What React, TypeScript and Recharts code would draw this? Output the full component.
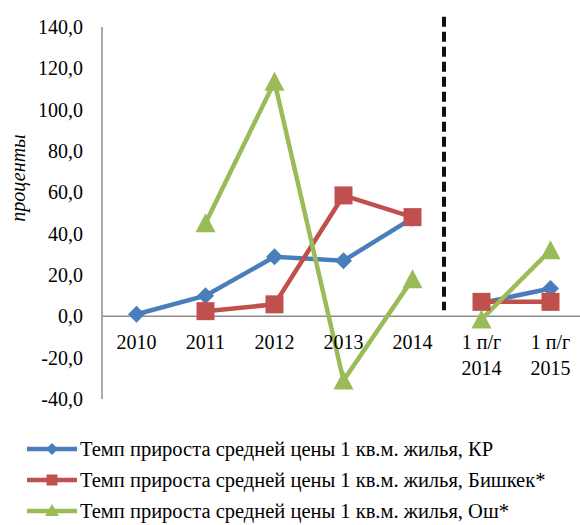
import React from "react";
import { LineChart, Line, XAxis, YAxis, ReferenceLine } from "recharts";

const categories = ["2010", "2011", "2012", "2013", "2014", "1 п/г 2014", "1 п/г 2015"];
// index where the half-year figures start (lines are broken there)
const halfYearStart = 5;

const krValues = [1.0, 10.0, 28.8, 26.9, 47.5, 6.5, 13.5];
const bishkekValues = [null, 2.5, 5.8, 58.5, 48.0, 7.0, 7.0];
const oshValues = [null, 45.0, 113.5, -31.0, 18.0, -1.5, 32.0];

const yTicks = [-40, -20, 0, 20, 40, 60, 80, 100, 120, 140];

const seriesNames = [
  "Темп прироста средней цены 1 кв.м. жилья, КР",
  "Темп прироста средней цены 1 кв.м. жилья, Бишкек*",
  "Темп прироста средней цены 1 кв.м. жилья, Ош*",
];

const BLUE = "#4a7ebb";
const RED = "#c0504d";
const GREEN = "#9bbb59";
const FONT = "'Liberation Serif', 'Times New Roman', serif";

const data = categories.map((name, i) => {
  const half = i >= halfYearStart;
  return {
    name,
    kr: half ? null : krValues[i],
    kr2: half ? krValues[i] : null,
    bishkek: half ? null : bishkekValues[i],
    bishkek2: half ? bishkekValues[i] : null,
    osh: half ? null : oshValues[i],
    osh2: half ? oshValues[i] : null,
  };
});

const fmt = (v: number) => v.toFixed(1).replace(".", ",");

function Marker({ kind, cx, cy, color }: { kind: string; cx: number; cy: number; color: string }) {
  if (kind === "diamond") {
    const r = 8.5;
    return <polygon points={`${cx},${cy - r} ${cx + r},${cy} ${cx},${cy + r} ${cx - r},${cy}`} fill={color} />;
  }
  if (kind === "square") {
    const s = 9;
    return <rect x={cx - s} y={cy - s} width={s * 2} height={s * 2} fill={color} />;
  }
  return <polygon points={`${cx},${cy - 10} ${cx + 10},${cy + 9} ${cx - 10},${cy + 9}`} fill={color} />;
}

const makeDot = (kind: string, color: string) => (props: any) => {
  const { cx, cy, index, value } = props;
  if (cy == null || value == null || Number.isNaN(cy)) return <g key={index} />;
  return <Marker key={index} kind={kind} cx={cx} cy={cy} color={color} />;
};

function CategoryTick({ x, y, payload }: any) {
  const label: string = payload.value;
  const cut = label.lastIndexOf(" ");
  const lines = cut > 0 ? [label.slice(0, cut), label.slice(cut + 1)] : [label];
  return (
    <text x={x} y={y - 50} textAnchor="middle" fill="#000" fontFamily={FONT} fontSize={20}>
      {lines.map((l, i) => (
        <tspan key={i} x={x} dy={i === 0 ? 0 : 26}>
          {l}
        </tspan>
      ))}
    </text>
  );
}

const legendItems = [
  { name: seriesNames[0], color: BLUE, kind: "diamond" },
  { name: seriesNames[1], color: RED, kind: "square" },
  { name: seriesNames[2], color: GREEN, kind: "triangle" },
];

export default function App() {
  const lineProps = { type: "linear" as const, strokeWidth: 4.5, isAnimationActive: false, activeDot: false, connectNulls: false };
  return (
    <div style={{ position: "fixed", left: 0, top: 0, width: 580, height: 525, overflow: "hidden", background: "#fff" }}>
      <LineChart width={600} height={525} data={data} margin={{ top: 27, right: 15, bottom: 0, left: 0 }}>
        <XAxis
          dataKey="name"
          scale="band"
          interval={0}
          axisLine={false}
          tickLine={false}
          tickSize={0}
          tickMargin={0}
          height={126}
          tick={<CategoryTick />}
        />
        <YAxis
          domain={[-40, 140]}
          ticks={yTicks}
          width={102}
          tickFormatter={fmt}
          axisLine={{ stroke: "#8c8c8c", strokeWidth: 1.5 }}
          tickLine={false}
          tickSize={0}
          tickMargin={19}
          tick={{ fill: "#000", fontFamily: FONT, fontSize: 20 }}
          label={{
            content: () => (
              <text
                x={18}
                y={178}
                transform="rotate(-90, 18, 178)"
                textAnchor="middle"
                dominantBaseline="central"
                fontFamily={FONT}
                fontStyle="italic"
                fontSize={20}
                fill="#000"
              >
                проценты
              </text>
            ),
          }}
        />
        <ReferenceLine y={0} stroke="#8c8c8c" strokeWidth={1.5} />
        <ReferenceLine
          segment={[
            { x: categories[halfYearStart], y: 145 },
            { x: categories[halfYearStart], y: 3 },
          ]}
          position="start"
          ifOverflow="visible"
          stroke="#111"
          strokeWidth={4}
          strokeDasharray="10 5"
          transform="translate(-3, 0)"
        />
        <Line dataKey="kr" stroke={BLUE} dot={makeDot("diamond", BLUE)} {...lineProps} />
        <Line dataKey="kr2" stroke={BLUE} dot={makeDot("diamond", BLUE)} legendType="none" {...lineProps} />
        <Line dataKey="bishkek" stroke={RED} dot={makeDot("square", RED)} {...lineProps} />
        <Line dataKey="bishkek2" stroke={RED} dot={makeDot("square", RED)} legendType="none" {...lineProps} />
        <Line dataKey="osh" stroke={GREEN} dot={makeDot("triangle", GREEN)} {...lineProps} />
        <Line dataKey="osh2" stroke={GREEN} dot={makeDot("triangle", GREEN)} legendType="none" {...lineProps} />
      </LineChart>
      <div style={{ position: "absolute", left: 27, top: 433, fontFamily: FONT, fontSize: 20.5, color: "#000" }}>
        {legendItems.map((it) => (
          <div key={it.name} style={{ display: "flex", alignItems: "center", height: 31, lineHeight: "24px" }}>
            <svg width={53} height={20} style={{ flex: "none" }}>
              <line x1={0} y1={10} x2={50} y2={10} stroke={it.color} strokeWidth={4.5} />
              {it.kind === "diamond" && <polygon points="25,4 31,10 25,16 19,10" fill={it.color} />}
              {it.kind === "square" && <rect x={19.5} y={4.5} width={11} height={11} fill={it.color} />}
              {it.kind === "triangle" && <polygon points="25,3 32,15 18,15" fill={it.color} />}
            </svg>
            <span style={{ whiteSpace: "nowrap" }}>{it.name}</span>
          </div>
        ))}
      </div>
    </div>
  );
}
